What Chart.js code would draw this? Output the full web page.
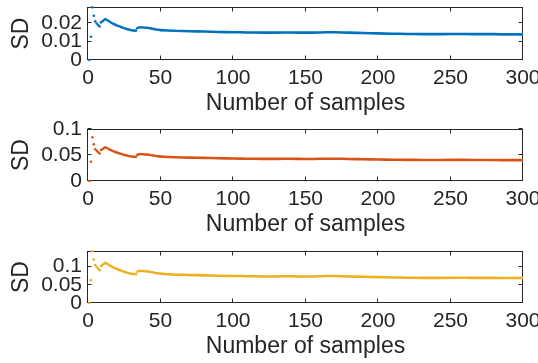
<!DOCTYPE html>
<html>
<head>
<meta charset="utf-8">
<script src="https://cdn.jsdelivr.net/npm/chart.js@4.4.1/dist/chart.umd.min.js"></script>
<style>
  html, body { margin: 0; padding: 0; background: #fff; }
  #wrap { position: relative; width: 538px; height: 363px; overflow: hidden; }
  canvas { position: absolute; left: 0; }
</style>
</head>
<body>
<div id="wrap">
  <canvas id="c1" width="538" height="121" style="top:0px"></canvas>
  <canvas id="c2" width="538" height="121" style="top:121px"></canvas>
  <canvas id="c3" width="538" height="121" style="top:242px"></canvas>
</div>
<script>
// sample counts
const earlySamples = Array.from({ length: 50 }, (_, i) => i + 1);
const lateSamples = [50, 55, 60, 65, 70, 75, 80, 85, 90, 95, 100, 105, 110, 115, 120, 125, 130, 135, 140, 145,
  150, 155, 160, 165, 170, 175, 180, 185, 190, 195, 200, 205, 210, 215, 220, 225, 230, 235, 240, 245,
  250, 255, 260, 265, 270, 275, 280, 285, 290, 295, 300];

const xTicks = [0, 50, 100, 150, 200, 250, 300];
const yTicks1 = [0, 0.01, 0.02];
const yTicks2 = [0, 0.05, 0.1];
const yTicks3 = [0, 0.05, 0.1];

// SD, top panel
const sdEarly1 = [0, 0.0126, 0.0286, 0.0240, 0.0209, 0.0198, 0.0189, 0.0181, 0.0204, 0.0210,
  0.0216, 0.0222, 0.0217, 0.0212, 0.0207, 0.0202, 0.0198, 0.0194, 0.0190, 0.0187,
  0.0184, 0.0181, 0.0178, 0.0175, 0.0172, 0.0170, 0.0167, 0.0165, 0.0163, 0.0161,
  0.0160, 0.0159, 0.0159, 0.0172, 0.0176, 0.0177, 0.0176, 0.0176, 0.0175, 0.0175,
  0.0174, 0.0173, 0.0171, 0.0170, 0.0168, 0.0167, 0.0165, 0.0164, 0.0163, 0.0162];
const sdLate1 = [0.0162, 0.0160, 0.0158, 0.0157, 0.0156, 0.0155, 0.0154, 0.0153, 0.0152, 0.0151,
  0.0150, 0.0150, 0.0149, 0.0149, 0.0148, 0.0148, 0.0148, 0.0149, 0.0149, 0.0148,
  0.0148, 0.0148, 0.0149, 0.0150, 0.0150, 0.0149, 0.0148, 0.0147, 0.0146, 0.0145,
  0.0144, 0.0143, 0.0142, 0.0142, 0.0141, 0.0141, 0.0140, 0.0140, 0.0140, 0.0140,
  0.0141, 0.0141, 0.0141, 0.0140, 0.0140, 0.0140, 0.0140, 0.0139, 0.0139, 0.0139, 0.0139];

// SD, middle panel
const sdEarly2 = [0, 0.0370, 0.0840, 0.0705, 0.0612, 0.0580, 0.0553, 0.0530, 0.0597, 0.0614,
  0.0632, 0.0648, 0.0634, 0.0619, 0.0604, 0.0590, 0.0578, 0.0567, 0.0555, 0.0546,
  0.0537, 0.0529, 0.0520, 0.0511, 0.0502, 0.0496, 0.0488, 0.0482, 0.0476, 0.0470,
  0.0467, 0.0464, 0.0464, 0.0502, 0.0514, 0.0517, 0.0514, 0.0514, 0.0511, 0.0511,
  0.0508, 0.0505, 0.0499, 0.0496, 0.0489, 0.0485, 0.0481, 0.0477, 0.0473, 0.0470];
const sdLate2 = [0.0470, 0.0463, 0.0457, 0.0453, 0.0450, 0.0447, 0.0444, 0.0441, 0.0438, 0.0435,
  0.0432, 0.0431, 0.0429, 0.0428, 0.0426, 0.0425, 0.0425, 0.0427, 0.0427, 0.0425,
  0.0424, 0.0424, 0.0427, 0.0429, 0.0429, 0.0427, 0.0424, 0.0421, 0.0419, 0.0416,
  0.0414, 0.0411, 0.0409, 0.0408, 0.0406, 0.0406, 0.0404, 0.0404, 0.0404, 0.0404,
  0.0406, 0.0406, 0.0406, 0.0404, 0.0404, 0.0404, 0.0404, 0.0402, 0.0402, 0.0402, 0.0402];

// SD, bottom panel
const sdEarly3 = [0, 0.0626, 0.1420, 0.1190, 0.1038, 0.0984, 0.0940, 0.0900, 0.1013, 0.1044,
  0.1073, 0.1103, 0.1078, 0.1053, 0.1029, 0.1004, 0.0984, 0.0964, 0.0944, 0.0929,
  0.0914, 0.0900, 0.0885, 0.0870, 0.0855, 0.0845, 0.0830, 0.0820, 0.0810, 0.0800,
  0.0795, 0.0790, 0.0790, 0.0855, 0.0875, 0.0880, 0.0875, 0.0875, 0.0870, 0.0870,
  0.0865, 0.0860, 0.0850, 0.0845, 0.0835, 0.0830, 0.0820, 0.0815, 0.0810, 0.0805];
const sdLate3 = [0.0800, 0.0788, 0.0778, 0.0773, 0.0768, 0.0763, 0.0758, 0.0753, 0.0748, 0.0743,
  0.0738, 0.0738, 0.0733, 0.0733, 0.0728, 0.0728, 0.0728, 0.0733, 0.0733, 0.0728,
  0.0728, 0.0728, 0.0733, 0.0738, 0.0738, 0.0733, 0.0728, 0.0723, 0.0718, 0.0713,
  0.0709, 0.0704, 0.0699, 0.0699, 0.0694, 0.0694, 0.0689, 0.0689, 0.0689, 0.0689,
  0.0694, 0.0694, 0.0694, 0.0689, 0.0689, 0.0689, 0.0689, 0.0684, 0.0684, 0.0684, 0.0684];

const FONT = "'Liberation Sans', Arial, Helvetica, sans-serif";
const TEXT = '#262626';
const H = 121;

// MATLAB-style box with inward ticks on all four sides
const boxPlugin = {
  id: 'box',
  beforeDatasetsDraw(chart) {
    const { ctx, chartArea: a, scales } = chart;
    const L = Math.round(a.left) - 0.5, R = Math.round(a.right) - 0.5;
    const T = Math.round(a.top) + 0.5, B = Math.round(a.bottom) - 0.5;
    ctx.save();
    ctx.strokeStyle = TEXT;
    ctx.lineWidth = 1;
    ctx.strokeRect(L, T, R - L, B - T);
    ctx.beginPath();
    xTicks.forEach(v => {
      const px = Math.round(scales.x.getPixelForValue(v)) - 0.5;
      ctx.moveTo(px, B); ctx.lineTo(px, B - 4);
      ctx.moveTo(px, T); ctx.lineTo(px, T + 4);
    });
    chart.$yTicks.forEach(v => {
      const py = Math.round(scales.y.getPixelForValue(v)) - 0.5;
      ctx.moveTo(L, py); ctx.lineTo(L + 4, py);
      ctx.moveTo(R, py); ctx.lineTo(R - 4, py);
    });
    ctx.stroke();
    ctx.restore();
  }
};

function makeChart(id, color, early, late, yMax, yTicks, top, bottom) {
  const titleHalf = 23 * 1.2 / 2;
  const chart = new Chart(document.getElementById(id), {
    type: 'scatter',
    data: {
      datasets: [
        {
          data: earlySamples.map((x, i) => ({ x, y: early[i] })),
          pointRadius: 1.3,
          pointBorderWidth: 0,
          backgroundColor: color,
          clip: false
        },
        {
          data: lateSamples.map((x, i) => ({ x, y: late[i] })),
          showLine: true,
          pointRadius: 0,
          borderColor: color,
          borderWidth: 2.6,
          clip: false
        }
      ]
    },
    options: {
      responsive: false,
      animation: false,
      layout: { padding: { left: 0, right: 15, top: top, bottom: 0 } },
      plugins: { legend: { display: false }, tooltip: { enabled: false } },
      scales: {
        x: {
          type: 'linear', min: 0, max: 300,
          grid: { display: false, drawTicks: false, tickLength: 0 },
          border: { display: false },
          afterBuildTicks: s => { s.ticks = xTicks.map(v => ({ value: v })); },
          afterFit: s => { s.height = H - bottom; s.paddingLeft = 0; s.paddingRight = 0; },
          ticks: { color: TEXT, font: { family: FONT, size: 21 }, padding: 6, autoSkip: false, maxRotation: 0, callback: v => String(v) },
          title: {
            display: true, text: 'Number of samples', color: TEXT,
            font: { family: FONT, size: 23 },
            padding: { top: 0, bottom: H - bottom - 43.5 - titleHalf }
          }
        },
        y: {
          type: 'linear', min: 0, max: yMax,
          grid: { display: false, drawTicks: false, tickLength: 0 },
          border: { display: false },
          afterBuildTicks: s => { s.ticks = yTicks.map(v => ({ value: v })); },
          afterFit: s => { s.width = 88; s.paddingTop = 0; s.paddingBottom = 0; },
          ticks: { color: TEXT, font: { family: FONT, size: 21 }, padding: 6, autoSkip: false, callback: v => String(v) },
          title: {
            display: true, text: 'SD', color: TEXT,
            font: { family: FONT, size: 23 },
            padding: { top: 8, bottom: 0 }
          }
        }
      }
    },
    plugins: [boxPlugin]
  });
  return chart;
}

Chart.register({ id: 'yticksHolder', beforeInit(chart) { chart.$yTicks = []; } });

const charts = [
  ['c1', '#0072BD', sdEarly1, sdLate1, 0.0287, yTicks1, 7, 60],
  ['c2', '#D95319', sdEarly2, sdLate2, 0.1, yTicks2, 8, 60],
  ['c3', '#EDB120', sdEarly3, sdLate3, 0.1425, yTicks3, 9, 61]
];
charts.forEach(c => {
  const ch = makeChart(...c);
  ch.$yTicks = c[5];
  ch.draw();
});
</script>
</body>
</html>
